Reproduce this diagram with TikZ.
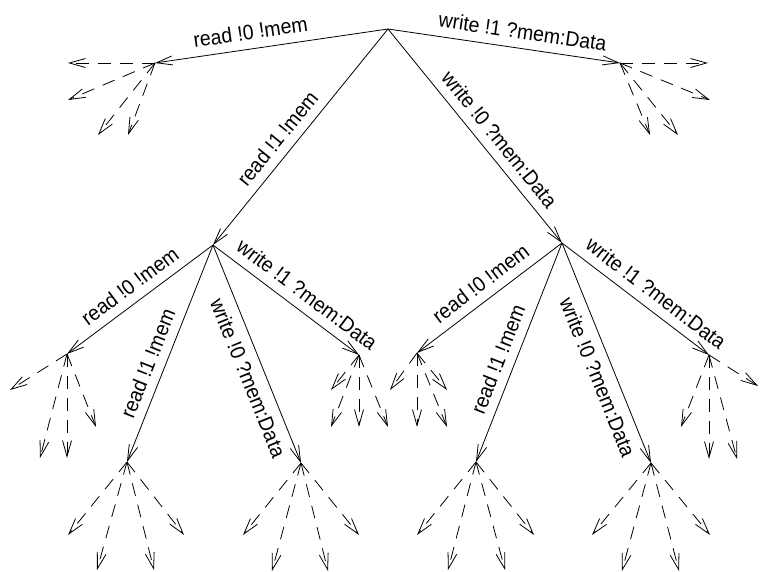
\documentclass[tikz,border=0pt]{standalone}
\usepackage{fontspec}
\setmainfont{Liberation Sans}[FakeStretch=0.93]
\usetikzlibrary{arrows.meta}
\begin{document}
\begin{tikzpicture}[x=1pt,y=-1pt,
  edge/.style={draw, line width=0.8pt, -{Straight Barb[length=16pt,width=9pt]}},
  stub/.style={edge, dash pattern=on 13pt off 9pt},
  lbl/.style={font=\fontsize{21}{25}\selectfont, sloped, inner sep=2pt},
  lblabove/.style={lbl, above=7pt},
  lblbelow/.style={lbl, below=7pt}]
\useasboundingbox (0,0) rectangle (761,572);

% states of the tree
\coordinate (root) at (388,29);
\coordinate (A) at (155,63);
\coordinate (B) at (620,63);
\coordinate (C) at (213,245);
\coordinate (D) at (562,243);
\coordinate (C1) at (67,354);
\coordinate (C2) at (127,462);
\coordinate (C3) at (301,463);
\coordinate (C4) at (359,355);
\coordinate (D1) at (417,353);
\coordinate (D2) at (476,462);
\coordinate (D3) at (651,463);
\coordinate (D4) at (709,355);

% first level
\draw[edge] (root) -- node[lblabove, pos=0.58] {read !0 !mem} (A);
\draw[edge] (root) -- node[lblabove, pos=0.57] {write !1 ?mem:Data} (B);
\draw[edge] (root) -- node[lblabove, pos=0.556] {read !1 !mem} (C);
\draw[edge] (root) -- node[lblabove, pos=0.565] {write !0 ?mem:Data} (D);

% second level, left
\draw[edge] (C) -- node[lblabove, pos=0.50] {read !0 !mem} (C1);
\draw[edge] (C) -- node[lblabove, pos=0.575] {read !1 !mem} (C2);
\draw[edge] (C) -- node[lblbelow, pos=0.58] {write !0 ?mem:Data} (C3);
\draw[edge] (C) -- node[lblabove, pos=0.575] {write !1 ?mem:Data} (C4);

% second level, right
\draw[edge] (D) -- node[lblabove, pos=0.49] {read !0 !mem} (D1);
\draw[edge] (D) -- node[lblabove, pos=0.56] {read !1 !mem} (D2);
\draw[edge] (D) -- node[lblbelow, pos=0.58] {write !0 ?mem:Data} (D3);
\draw[edge] (D) -- node[lblabove, pos=0.57] {write !1 ?mem:Data} (D4);

% unexpanded continuations
\foreach \s/\fan in {
    A/{1/-87/0, 2/-87/37, 3/-57/72, 4/-27/72},
    B/{1/88/0, 2/90/37, 3/30/72, 4/58/72},
    C1/{1/-57/36, 2/-27/104, 3/0/104, 4/29/73},
    C2/{1/-59/73, 2/-30/108, 3/27/108, 4/57/73},
    C3/{1/-58/72, 2/-29/108, 3/27/108, 4/58/72},
    C4/{1/-28/35, 2/-28/72, 3/0/72, 4/29/72},
    D1/{1/-27/37, 2/0/74, 3/30/74, 4/30/37},
    D2/{1/-59/73, 2/-28/108, 3/29/108, 4/58/73},
    D3/{1/-59/72, 2/-29/108, 3/28/108, 4/59/72},
    D4/{1/49/31, 2/28/104, 3/0/104, 4/-28/72}} {
  \foreach \n/\dx/\dy in \fan {
    \path (\s) ++(\dx,\dy) coordinate (\s-\n);
    \draw[stub] (\s) -- (\s-\n);
  }
}
\end{tikzpicture}
\end{document}
